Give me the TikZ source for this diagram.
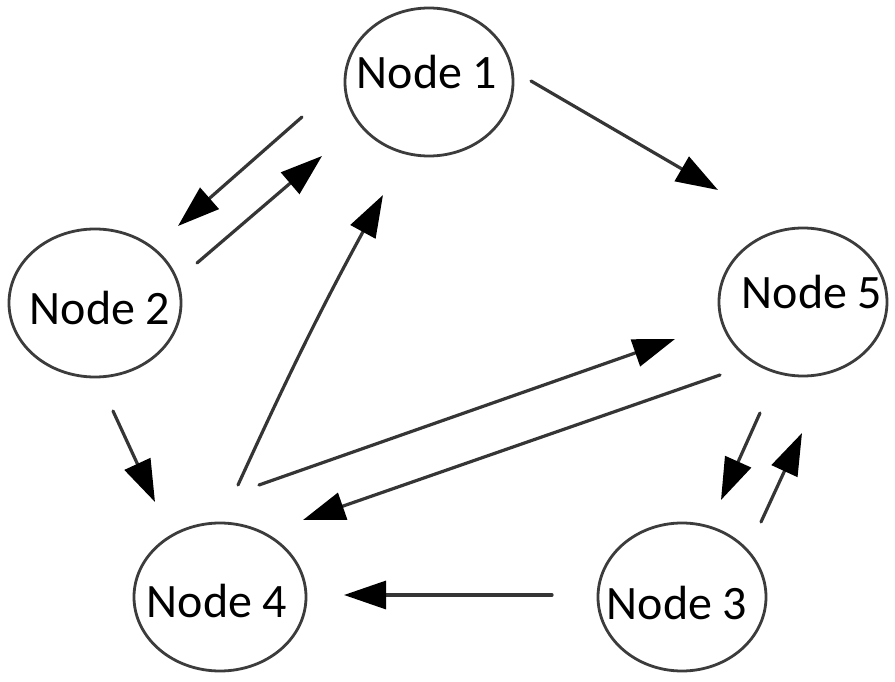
\documentclass[tikz,border=0pt]{standalone}
\usepackage{fontspec}
\setmainfont{Carlito}
\usetikzlibrary{arrows.meta,shapes.geometric}
\definecolor{linegray}{HTML}{353535}
\definecolor{ringgray}{HTML}{3C3C3C}
\tikzset{
  nodeell/.style={ellipse, draw=ringgray, line width=2.8pt, inner sep=0pt,
    minimum width=168pt, minimum height=148pt},
  lbl/.style={font=\fontsize{48}{50}\selectfont, text=black, inner sep=0pt},
  conn/.style={draw=linegray, line width=3.2pt, line cap=round,
    -{Triangle[length=42pt,width=28pt,fill=black,color=black]}},
}
\begin{document}
\begin{tikzpicture}[x=1pt,y=-1pt]
\useasboundingbox[fill=white] (0,0) rectangle (895,682);
% nodes
\node[nodeell, label={[lbl, xshift=-2pt, yshift=10pt]center:Node 1}] (n1) at (429,82) {};
\node[nodeell, minimum width=172pt, label={[lbl, xshift=5pt, yshift=-5pt]center:Node 2}] (n2) at (95,303) {};
\node[nodeell, label={[lbl, xshift=-5pt, yshift=-6pt]center:Node 3}] (n3) at (682,597) {};
\node[nodeell, minimum width=172pt, label={[lbl, xshift=-3pt, yshift=-4pt]center:Node 4}] (n4) at (220,597) {};
\node[nodeell, label={[lbl, xshift=9pt, yshift=10pt]center:Node 5}] (n5) at (803,302) {};
% connector ends
\coordinate (a12s) at (302,117); \coordinate (a12e) at (178,226);
\coordinate (a21s) at (197,263); \coordinate (a21e) at (322,156);
\coordinate (a15s) at (531,81);  \coordinate (a15e) at (718,190);
\coordinate (a24s) at (113,411); \coordinate (a24e) at (155,502);
\coordinate (a41s) at (238,485); \coordinate (a41e) at (383,195);
\coordinate (a45s) at (259,485); \coordinate (a45e) at (675,339);
\coordinate (a54s) at (720,375); \coordinate (a54e) at (303,520);
\coordinate (a53s) at (760,413); \coordinate (a53e) at (721,500);
\coordinate (a35s) at (761,522); \coordinate (a35e) at (802,433);
\coordinate (a34s) at (552,595); \coordinate (a34e) at (344,595);
% connectors
\draw[conn] (a12s) -- (a12e);
\draw[conn] (a21s) -- (a21e);
\draw[conn] (a15s) -- (a15e);
\draw[conn] (a24s) -- (a24e);
\draw[conn] (a41s) to[bend left=2] (a41e);
\draw[conn] (a45s) -- (a45e);
\draw[conn] (a54s) -- (a54e);
\draw[conn] (a53s) -- (a53e);
\draw[conn] (a35s) -- (a35e);
\draw[conn] (a34s) -- (a34e);
\end{tikzpicture}
\end{document}
